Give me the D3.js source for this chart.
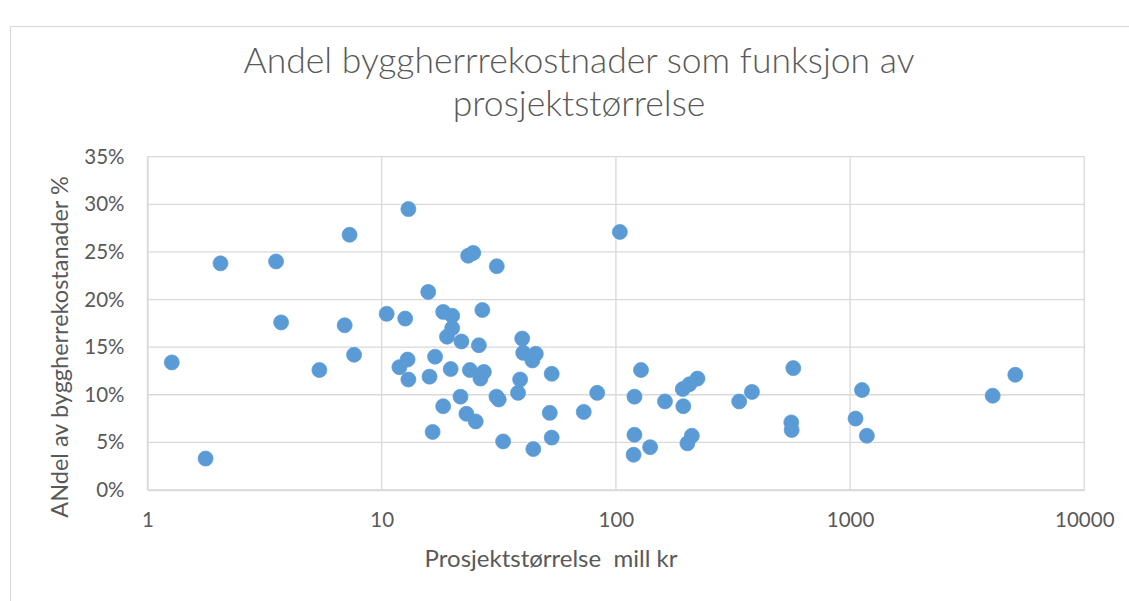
<!DOCTYPE html>
<html>
<head>
<meta charset="utf-8">
<script src="https://cdn.jsdelivr.net/npm/d3@7"></script>
<style>
  body { margin: 0; background: #fff; }
  svg text { font-family: Lato, "Open Sans", sans-serif; fill: #595959; }
</style>
</head>
<body>
<div id="chart"></div>
<script>
// project size (mill kr) and builder cost share
const prosjektstorrelse = [1.27, 1.77, 2.05, 3.54, 3.72, 5.42, 6.95, 7.29, 7.62, 10.5,
  11.9, 12.6, 12.9, 13.0, 13.0, 15.8, 16.0, 16.5, 16.9, 18.3,
  18.3, 19.0, 19.7, 20.0, 20.0, 21.7, 21.9, 23.0, 23.4, 24.6,
  23.8, 25.2, 26.0, 26.4, 26.9, 27.3, 30.9, 31.6, 31.0, 33.0,
  38.2, 39.0, 39.8, 40.2, 44.0, 44.4, 45.5, 52.2, 53.2, 53.2,
  72.9, 83.2, 104, 120, 120, 119, 128, 140, 162, 194,
  193, 206, 223, 202, 211, 336, 381, 572, 561, 563,
  1124, 1055, 1179, 4063, 5075];
const andel = [0.134, 0.033, 0.238, 0.240, 0.176, 0.126, 0.173, 0.268, 0.142, 0.185,
  0.129, 0.180, 0.137, 0.116, 0.295, 0.208, 0.119, 0.061, 0.140, 0.088,
  0.187, 0.161, 0.127, 0.183, 0.170, 0.098, 0.156, 0.080, 0.246, 0.249,
  0.126, 0.072, 0.152, 0.117, 0.189, 0.124, 0.098, 0.095, 0.235, 0.051,
  0.102, 0.116, 0.159, 0.144, 0.136, 0.043, 0.143, 0.081, 0.122, 0.055,
  0.082, 0.102, 0.271, 0.098, 0.058, 0.037, 0.126, 0.045, 0.093, 0.088,
  0.106, 0.111, 0.117, 0.049, 0.057, 0.093, 0.103, 0.128, 0.071, 0.063,
  0.105, 0.075, 0.057, 0.099, 0.121];

const xTicks = [1, 10, 100, 1000, 10000];
const yTicks = [0, 0.05, 0.10, 0.15, 0.20, 0.25, 0.30, 0.35];
const tittel = ['Andel byggherrrekostnader som funksjon av', 'prosjektstørrelse'];
const xTittel = 'Prosjektstørrelse\u00a0 mill kr';
const yTittel = 'ANdel av byggherrekostanader %';

const width = 1129, height = 601;
const margin = { top: 156.7, right: 1129 - 1084.3, bottom: 601 - 490, left: 147.5 };

const svg = d3.select('#chart').append('svg')
    .attr('width', width)
    .attr('height', height);

// chart frame
svg.append('rect')
    .attr('x', 10.5).attr('y', 26.5)
    .attr('width', width).attr('height', height)
    .attr('fill', 'none')
    .attr('stroke', '#d9d9d9')
    .attr('stroke-width', 1);

const x = d3.scaleLog()
    .domain([1, 10000])
    .range([margin.left, width - margin.right]);

const y = d3.scaleLinear()
    .domain([0, 0.35])
    .range([height - margin.bottom, margin.top]);

// gridlines
svg.append('g')
    .selectAll('line')
    .data(yTicks)
    .enter().append('line')
    .attr('x1', x(1)).attr('x2', x(10000))
    .attr('y1', d => y(d)).attr('y2', d => y(d))
    .attr('stroke', '#d9d9d9')
    .attr('stroke-width', 1.3);

svg.append('g')
    .selectAll('line')
    .data(xTicks)
    .enter().append('line')
    .attr('x1', d => x(d)).attr('x2', d => x(d))
    .attr('y1', y(0)).attr('y2', y(0.35))
    .attr('stroke', '#d9d9d9')
    .attr('stroke-width', 1.3);

// axes (labels only, Excel style)
const xAxis = svg.append('g')
    .attr('transform', `translate(0,${y(0)})`)
    .call(d3.axisBottom(x).tickValues(xTicks).tickFormat(d3.format('d')).tickSize(0).tickPadding(22));
xAxis.select('.domain').attr('stroke', '#d9d9d9').attr('stroke-width', 1.3);
xAxis.selectAll('text').attr('font-size', '20.5px').style('font-family', 'Lato');

const yAxis = svg.append('g')
    .attr('transform', `translate(${x(1)},0)`)
    .call(d3.axisLeft(y).tickValues(yTicks).tickFormat(d3.format('.0%')).tickSize(0).tickPadding(23));
yAxis.select('.domain').attr('stroke', '#d9d9d9').attr('stroke-width', 1.3);
yAxis.selectAll('text').attr('font-size', '20.5px').style('font-family', 'Lato');

// points
const punkter = prosjektstorrelse.map((v, i) => ({ x: v, y: andel[i] }));
svg.append('g')
    .selectAll('circle')
    .data(punkter)
    .enter().append('circle')
    .attr('cx', d => x(d.x))
    .attr('cy', d => y(d.y))
    .attr('r', 7.5)
    .attr('fill', '#5b9bd5')
    .attr('stroke', '#5b9bd5')
    .attr('stroke-width', 0.75);

// titles
svg.append('text')
    .attr('x', 579)
    .attr('text-anchor', 'middle')
    .attr('font-size', '35.5px')
    .attr('font-weight', 300)
    .selectAll('tspan')
    .data(tittel)
    .enter().append('tspan')
    .attr('x', 579)
    .attr('y', (d, i) => 73 + i * 43)
    .text(d => d);

svg.append('text')
    .attr('x', 551)
    .attr('y', 567)
    .attr('text-anchor', 'middle')
    .attr('font-size', '24px')
    .text(xTittel);

svg.append('text')
    .attr('transform', `translate(68,347) rotate(-90)`)
    .attr('text-anchor', 'middle')
    .attr('font-size', '23.5px')
    .text(yTittel);
</script>
</body>
</html>
